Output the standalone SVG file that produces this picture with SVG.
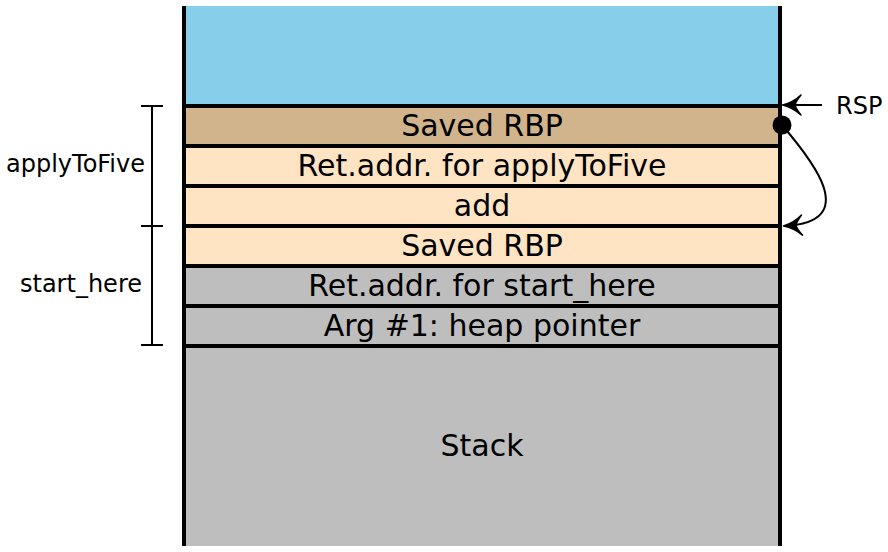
<svg xmlns="http://www.w3.org/2000/svg" width="888" height="552" viewBox="0 0 888 552">
<style>
.lbl{font-family:"DejaVu Sans",sans-serif;font-size:30px;fill:#000;text-anchor:middle}
.side{font-family:"DejaVu Sans",sans-serif;font-size:24px;fill:#000}
.sep{stroke:#000;stroke-width:4;fill:none}
.br{stroke:#000;stroke-width:2;fill:none}
.arr{stroke:#000;stroke-width:2;fill:none;marker-end:url(#tip)}
</style>
<defs>
<marker id="tip" markerUnits="userSpaceOnUse" markerWidth="30" markerHeight="30" viewBox="-25 -15 30 30" refX="0" refY="0" orient="auto" overflow="visible">
<path d="M1.5,0 Q-9,-2.5 -17,-10 Q-12,-4 -11,0 Q-12,4 -17,10 Q-9,2.5 1.5,0 Z" fill="#000" stroke="#000" stroke-width="1.5" stroke-linejoin="round"/>
</marker>
</defs>
<rect width="888" height="552" fill="#fff"/>
<g id="free">
<rect x="184" y="6" width="596" height="100" fill="#87CEEB"/>
</g>
<g id="savedrbp1">
<rect x="184" y="106" width="596" height="40" fill="#D2B48C"/>
<text class="lbl" x="482" y="136">Saved RBP</text>
</g>
<g id="retaddr1">
<rect x="184" y="146" width="596" height="40" fill="#FFE4C4"/>
<text class="lbl" x="482" y="176">Ret.addr. for applyToFive</text>
</g>
<g id="add">
<rect x="184" y="186" width="596" height="40" fill="#FFE4C4"/>
<text class="lbl" x="482" y="216">add</text>
</g>
<g id="savedrbp2">
<rect x="184" y="226" width="596" height="40" fill="#FFE4C4"/>
<text class="lbl" x="482" y="256">Saved RBP</text>
</g>
<g id="retaddr2">
<rect x="184" y="266" width="596" height="40" fill="#BEBEBE"/>
<text class="lbl" x="482" y="296">Ret.addr. for start_here</text>
</g>
<g id="arg1">
<rect x="184" y="306" width="596" height="40" fill="#BEBEBE"/>
<text class="lbl" x="482" y="336">Arg #1: heap pointer</text>
</g>
<g id="stack">
<rect x="184" y="346" width="596" height="200" fill="#BEBEBE"/>
<text class="lbl" x="482" y="456">Stack</text>
</g>
<g id="lines">
<path class="sep" d="M184,106H780M184,146H780M184,186H780M184,226H780M184,266H780M184,306H780M184,346H780"/>
<path class="sep" d="M184,6V546M780,6V546"/>
</g>
<g id="bracket-applyToFive">
<path class="br" d="M152,106V226M141,106H163M141,226H163"/>
<text class="side" x="6" y="172">applyToFive</text>
</g>
<g id="bracket-start_here">
<path class="br" d="M152,226V345M141,226H163M141,345H163"/>
<text class="side" x="20" y="292">start_here</text>
</g>
<g id="rsp">
<text class="side" x="836" y="114">RSP</text>
</g>
<g id="connectors">
<path class="arr" d="M822,105H784"/>
<circle cx="782" cy="125" r="9.5" fill="#000"/>
<path class="arr" d="M782,125 C812,160 862,222 785,226"/>
</g>
</svg>
